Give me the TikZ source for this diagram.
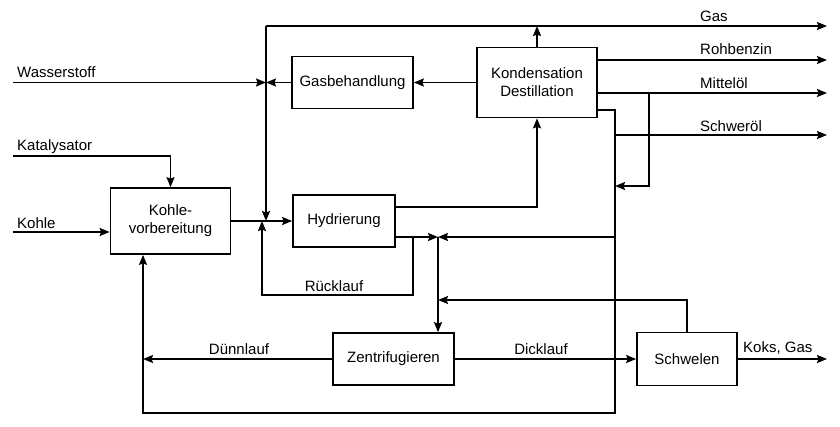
\documentclass[tikz,border=0pt]{standalone}
\usepackage{fontspec}
\setmainfont{Liberation Sans}
\usetikzlibrary{arrows.meta}
\begin{document}
\begin{tikzpicture}[x=1pt,y=-1pt,
  box/.style={draw, line width=1.7pt, inner sep=0pt, font=\fontsize{15}{18}\selectfont, align=center},
  flow/.style={line width=1.7pt, -{Stealth[length=10pt,width=8pt,inset=1.5pt]}},
  lbl/.style={font=\fontsize{15}{18}\selectfont, inner sep=0pt}]
\useasboundingbox[fill=white] (0,0) rectangle (840,426);

% boxes
\node[box, minimum width=121pt, minimum height=52pt] (gb) at (352.5,82.5) {Gasbehandlung};
\node[box, minimum width=120pt, minimum height=70pt] (kd) at (537,82.5) {Kondensation\\Destillation};
\node[box, minimum width=120pt, minimum height=66pt] (kv) at (170.5,221) {Kohle-\\vorbereitung};
\node[box, minimum width=102pt, minimum height=52pt] (hy) at (344,221) {Hydrierung};
\node[box, minimum width=121pt, minimum height=52pt] (zf) at (393.5,359) {Zentrifugieren};
\node[box, minimum width=100pt, minimum height=53pt] (sw) at (687,359) {Schwelen};

% coordinates
\coordinate (gasL) at (266,26);
\coordinate (gasR) at (827,26);
\coordinate (wsL) at (13,82.5);
\coordinate (katL) at (13,156);
\coordinate (kohL) at (13,232);
\coordinate (rbR) at (827,60);
\coordinate (moR) at (827,93);
\coordinate (moJ) at (649,93);
\coordinate (moB) at (649,186);
\coordinate (soR) at (827,135);
\coordinate (rv) at (615,413);
\coordinate (jz) at (438,237);
\coordinate (rlb) at (262,295);
\coordinate (rl1) at (413,237);
\coordinate (sr) at (438,300);
\coordinate (dlL) at (143,359);
\coordinate (kgR) at (827,359);

% gas line
\draw[flow] (gasL) -- (gasR);
\draw[flow] (gasL) -- (gasL |- hy.west);
\draw[flow] (kd.north) -- (kd.north |- gasL);
% Wasserstoff, Gasbehandlung
\draw[flow] (wsL) -- (wsL -| gasL);
\draw[flow] (gb.west) -- (gb.west -| gasL);
\draw[flow] (kd.west) -- (gb.east);
% Katalysator, Kohle
\draw[flow] (katL) -| (kv.north);
\draw[flow] (kohL) -- (kohL -| kv.west);
\draw[flow] (kv.east) -- (hy.west);
% Hydrierung outputs
\draw[flow] ([yshift=14pt]hy.east) -| (kd.south);
\draw[flow] ([yshift=-16pt]hy.east) -- (jz);
\draw[flow] (rl1) -- (rl1 |- rlb) -- (rlb) -- (rlb |- hy.west);
% Kondensation outputs
\draw[flow] (kd.east |- rbR) -- (rbR);
\draw[flow] (kd.east |- moR) -- (moR);
\draw[flow] (moJ) -- (moB) -- (moB -| rv);
\draw[flow] (rv |- soR) -- (soR);
\draw[flow] ([yshift=-27.5pt]kd.east) -| (rv) -| ([xshift=-27.5pt]kv.south);
\draw[flow] (rv |- jz) -- (jz);
% Zentrifugieren, Schwelen
\draw[flow] (jz) -- (jz |- zf.north);
\draw[flow] (sw.north) |- (sr);
\draw[flow] (zf.east) -- (sw.west);
\draw[flow] (zf.west) -- (dlL);
\draw[flow] (sw.east) -- (kgR);

% labels
\node[lbl, anchor=west] (l1) at (700,16) {Gas};
\node[lbl, anchor=west] (l2) at (700,49) {Rohbenzin};
\node[lbl, anchor=west] (l3) at (700,83) {Mittelöl};
\node[lbl, anchor=west] (l4) at (700,126) {Schweröl};
\node[lbl, anchor=west] (l5) at (743,348) {Koks, Gas};
\node[lbl, anchor=west] (l6) at (17,72) {Wasserstoff};
\node[lbl, anchor=west] (l7) at (17,147) {Katalysator};
\node[lbl, anchor=west] (l8) at (17,223) {Kohle};
\node[lbl] (l9) at (334,286) {Rücklauf};
\node[lbl] (l10) at (239,349) {Dünnlauf};
\node[lbl] (l11) at (541,349) {Dicklauf};
\end{tikzpicture}
\end{document}
